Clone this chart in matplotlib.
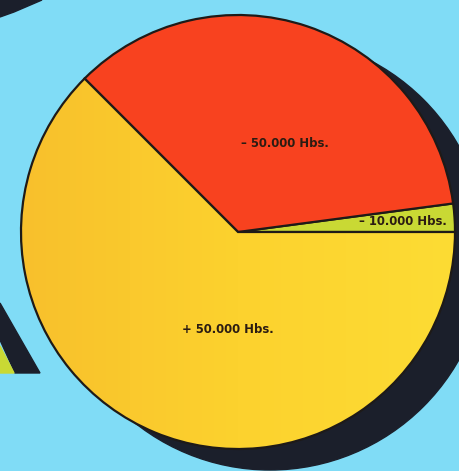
import numpy as np
import matplotlib.pyplot as plt
from matplotlib.patches import Circle, Polygon
from matplotlib.colors import LinearSegmentedColormap

# datos (porcentaje de cada sector)
etiquetas = ['– 10.000 Hbs.', '– 50.000 Hbs.', '+ 50.000 Hbs.']
valores = [2.1, 35.4, 62.5]
colores = ['#c9d934', '#f8421f', '#fbcf2c']

# posición de cada etiqueta (ángulo en grados, distancia relativa al radio)
ang_etq = [3.5, 62.0, 264.0]
dist_etq = [0.76, 0.46, 0.45]

W, H = 459, 471
fig = plt.figure(figsize=(W / 100, H / 100), dpi=100)
ax = fig.add_axes([0, 0, 1, 1])
ax.set_facecolor('#80dcf6')

cx, cy, r = 238, 239, 217

# sombra
ax.add_patch(Circle((cx + 32, cy - 21), r, color='#1b1f2b', zorder=1))

# adornos de las esquinas
ax.add_patch(Polygon([[0, H], [42, H], [14, H - 12], [0, H - 17]], closed=True,
                     color='#1b1f2b', zorder=1))
ax.add_patch(Polygon([[0, H - 303], [40, H - 373], [15, H - 373], [0, H - 340]],
                     closed=True, color='#1b1f2b', zorder=1))
ax.add_patch(Polygon([[0, H - 346], [14, H - 373], [0, H - 373]],
                     closed=True, color='#c9d934', zorder=1))

cunas, _ = ax.pie(valores, colors=colores, startangle=0, counterclock=True,
                  center=(cx, cy), radius=r, frame=True,
                  wedgeprops=dict(edgecolor='#1e1a18', linewidth=1.6, zorder=3))

# degradado en el sector amarillo
grad = np.linspace(0, 1, 256).reshape(1, -1)
cmap = LinearSegmentedColormap.from_list('amarillo', ['#f8c02c', '#fcd22e', '#fddc34'])
im = ax.imshow(grad, cmap=cmap, extent=(cx - r, cx + r, cy - r, cy + r),
               aspect='auto', zorder=3.5)
im.set_clip_path(cunas[2])
cunas[2].set_zorder(4)
cunas[2].set_facecolor('none')

for t, a, d in zip(etiquetas, ang_etq, dist_etq):
    x = cx + d * r * np.cos(np.radians(a))
    y = cy + d * r * np.sin(np.radians(a))
    ax.text(x, y, t, ha='center', va='center', fontsize=8.4, fontweight='bold',
            color='#2b1c12', zorder=5)

ax.set_xlim(0, W)
ax.set_ylim(0, H)
ax.set_aspect('auto')
ax.set_xticks([])
ax.set_yticks([])
for s in ax.spines.values():
    s.set_visible(False)

fig.savefig('out.png', dpi=100, facecolor='#80dcf6')
